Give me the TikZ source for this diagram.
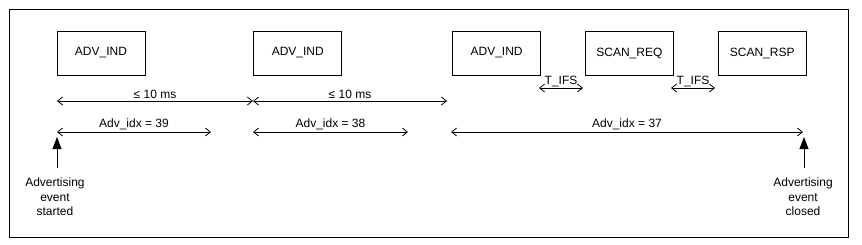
\documentclass[tikz,border=0pt]{standalone}
\usepackage{fontspec}
\setmainfont{Liberation Sans}
\usetikzlibrary{arrows.meta,positioning}

\begin{document}
\begin{tikzpicture}[x=1pt,y=-1pt,line width=0.8pt,>={Straight Barb[length=5pt,width=8pt]},node distance=108pt,font=\fontsize{12}{14.5}\selectfont]
    \tikzset{pdu/.style={draw,minimum width=88pt,minimum height=44pt,inner sep=0pt},
      span/.style={<->},
      lbl/.style={above,inner sep=2pt},
      evt/.style={align=center,inner sep=0pt},
      mark arrow/.style={-{Triangle[length=12pt,width=9pt]}}}
    \useasboundingbox (0,0) rectangle (862,244);
    \draw (9,9) rectangle (848,237);
    % packets
    \node[pdu] (adv1) at (101,53) {ADV\_IND};
    \node[pdu,right=of adv1] (adv2) {ADV\_IND};
    \node[pdu,right=110pt of adv2] (adv3) {ADV\_IND};
    \node[pdu,right=44pt of adv3] (req) {SCAN\_REQ};
    \node[pdu,right=44pt of req] (rsp) {SCAN\_RSP};
    % interframe spacing
    \coordinate (f0) at (539,88);
    \coordinate (f1) at (583,88);
    \coordinate (f2) at (671,88);
    \coordinate (f3) at (715,88);
    \draw[span] (f0) -- node[lbl,inner sep=0.5pt] (ifs1) {T\_IFS} (f1);
    \draw[span] (f2) -- node[lbl,inner sep=0.5pt] (ifs2) {T\_IFS} (f3);
    % advertising intervals
    \coordinate (m0) at (57,101);
    \coordinate (m1) at (253,101);
    \coordinate (m2) at (447,101);
    \draw[span] (m0) -- node[lbl] (gap1) {≤ 10 ms} (m1);
    \draw[span] (m1) -- node[lbl] (gap2) {≤ 10 ms} (m2);
    % channel index
    \coordinate (i0) at (57,132);
    \coordinate (i0e) at (211,132);
    \coordinate (i1) at (253,132);
    \coordinate (i1e) at (408,132);
    \coordinate (i2) at (451,132);
    \coordinate (i2e) at (803,132);
    \draw[span] (i0) -- node[lbl] (idx1) {Adv\_idx = 39} (i0e);
    \draw[span] (i1) -- node[lbl] (idx2) {Adv\_idx = 38} (i1e);
    \draw[span] (i2) -- node[lbl] (idx3) {Adv\_idx = 37} (i2e);
    % event start / end
    \node[evt] (start) at (55,197) {Advertising\\event\\started};
    \node[evt] (close) at (803,197) {Advertising\\event\\closed};
    \coordinate (s0) at (57,168);
    \coordinate (s1) at (57,137);
    \coordinate (c0) at (804,168);
    \coordinate (c1) at (804,137);
    \draw[mark arrow] (s0) -- (s1);
    \draw[mark arrow] (c0) -- (c1);
  \end{tikzpicture}
\end{document}
